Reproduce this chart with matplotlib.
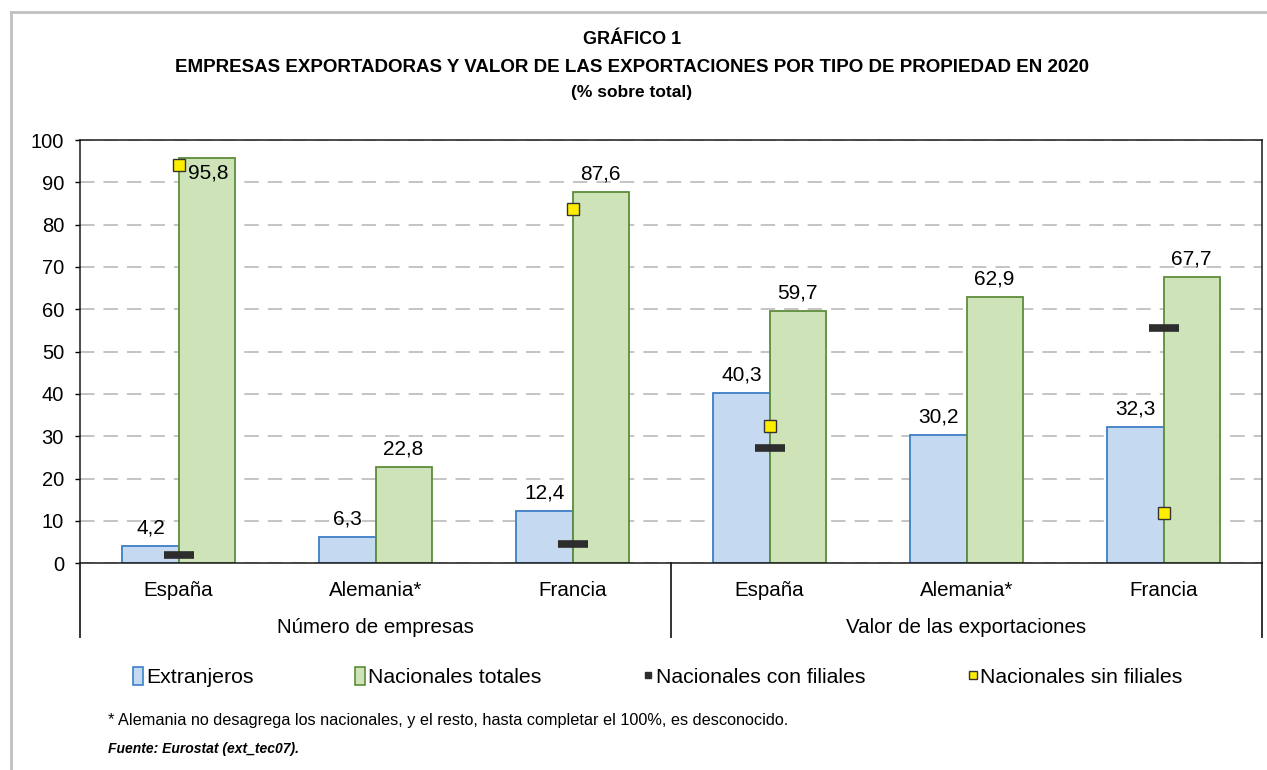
import numpy as np
import matplotlib
matplotlib.use("Agg")
import matplotlib.pyplot as plt
from matplotlib.lines import Line2D
from matplotlib.patches import Patch

plt.rcParams['font.family'] = ['Liberation Sans', 'DejaVu Sans']

# data
paises = ["España", "Alemania*", "Francia", "España", "Alemania*", "Francia"]
grupos = ["Número de empresas", "Valor de las exportaciones"]
extranjeros = [4.2, 6.3, 12.4, 40.3, 30.2, 32.3]
nacionales_totales = [95.8, 22.8, 87.6, 59.7, 62.9, 67.7]
con_filiales = [2.0, np.nan, 4.6, 27.2, np.nan, 55.6]
sin_filiales = [94.2, np.nan, 83.8, 32.4, np.nan, 11.8]

W, H = 1267, 770
fig = plt.figure(figsize=(W / 100, H / 100), dpi=100)
ax = fig.add_axes([80 / W, 1 - 563.3 / H, 1182 / W, 423.3 / H])

azul, azul_borde = "#c5d9f1", "#3d7fc6"
verde, verde_borde = "#cee3b8", "#5e8c3a"
amarillo = "#ffed00"
oscuro = "#2d2d2d"

x = np.arange(len(paises))
w = 0.285
ax.bar(x - w / 2, extranjeros, w, color=azul, edgecolor=azul_borde, linewidth=1.3, zorder=2)
ax.bar(x + w / 2, nacionales_totales, w, color=verde, edgecolor=verde_borde, linewidth=1.3, zorder=2)
ax.plot(x, con_filiales, linestyle="none", marker="_", markersize=22, markeredgewidth=5.5,
        color=oscuro, zorder=4)
ax.plot(x, sin_filiales, linestyle="none", marker="s", markersize=8, markerfacecolor=amarillo,
        markeredgecolor="#333333", markeredgewidth=1, zorder=5)

def fmt(v):
    return f"{v:.1f}".replace(".", ",")

fs = 15
for xi, v in zip(x - w / 2, extranjeros):
    ax.annotate(fmt(v), (xi, v), xytext=(0, 9), textcoords="offset points",
                ha="center", va="baseline", fontsize=fs)
for xi, v in zip(x + w / 2, nacionales_totales):
    if v > 90:
        ax.annotate(fmt(v), (xi, v), xytext=(1, -4), textcoords="offset points",
                    ha="center", va="top", fontsize=fs, zorder=6)
    else:
        ax.annotate(fmt(v), (xi, v), xytext=(0, 9), textcoords="offset points",
                    ha="center", va="baseline", fontsize=fs)

ax.set_xlim(-0.5, len(paises) - 0.5)
ax.set_ylim(0, 100)
ax.set_yticks(range(0, 101, 10))
ax.tick_params(axis="y", labelsize=14.5, length=3.5, width=1, direction="out", pad=8)
ax.set_xticks(x)
ax.set_xticklabels(paises)
ax.tick_params(axis="x", labelsize=14.8, length=0, pad=13)
for s in ax.spines.values():
    s.set_color("#1a1a1a")
    s.set_linewidth(1.1)
ax.grid(axis="y", color="#bfbfbf", linestyle=(0, (8, 5)), linewidth=1.3, zorder=0)
ax.set_axisbelow(True)

tr = ax.get_xaxis_transform()
for sx in [-0.5, 2.5, 5.5]:
    ax.plot([sx, sx], [0, -0.174], transform=tr, color="#333333", linewidth=1.4, clip_on=False)
for i, g in enumerate(grupos):
    ax.text(1 + 3 * i, -0.151, g, transform=tr, ha="center", va="center", fontsize=14.8)

# titles
def ft(px, py, s, **kw):
    fig.text(px / W, 1 - py / H, s, **kw)

ft(632, 40, "GRÁFICO 1", ha="center", va="center", fontsize=13, fontweight="bold")
ft(632, 67, "EMPRESAS EXPORTADORAS Y VALOR DE LAS EXPORTACIONES POR TIPO DE PROPIEDAD EN 2020",
   ha="center", va="center", fontsize=13.5, fontweight="bold")
ft(632, 93, "(% sobre total)", ha="center", va="center", fontsize=12.5, fontweight="bold")

ft(108, 721, "* Alemania no desagrega los nacionales, y el resto, hasta completar el 100%, es desconocido.",
   ha="left", va="center", fontsize=11.7)
ft(108, 749, "Fuente: Eurostat (ext_tec07).", ha="left", va="center", fontsize=10,
   fontweight="bold", style="italic")

handles = [
    Patch(facecolor=azul, edgecolor=azul_borde, linewidth=1.2),
    Patch(facecolor=verde, edgecolor=verde_borde, linewidth=1.2),
    Line2D([], [], linestyle="none", marker="s", markersize=5, color=oscuro),
    Line2D([], [], linestyle="none", marker="s", markersize=6, markerfacecolor=amarillo,
           markeredgecolor="#333333", markeredgewidth=1),
]
labels = ["Extranjeros", "Nacionales totales", "Nacionales con filiales", "Nacionales sin filiales"]
fig.legend(handles, labels, loc="center", bbox_to_anchor=(658 / W, 1 - 677 / H), ncol=4,
           frameon=False, fontsize=15.3, handlelength=0.45, handleheight=0.9, handletextpad=0.15,
           columnspacing=4.8)

# outer frame (top and left only)
fig.add_artist(Line2D([11 / W, 11 / W], [0, 1 - 12 / H], transform=fig.transFigure,
                      color="#c0c0c0", linewidth=2))
fig.add_artist(Line2D([11 / W, 1], [1 - 12 / H, 1 - 12 / H], transform=fig.transFigure,
                      color="#c0c0c0", linewidth=2))

fig.savefig("out.png", dpi=100, facecolor="white")
